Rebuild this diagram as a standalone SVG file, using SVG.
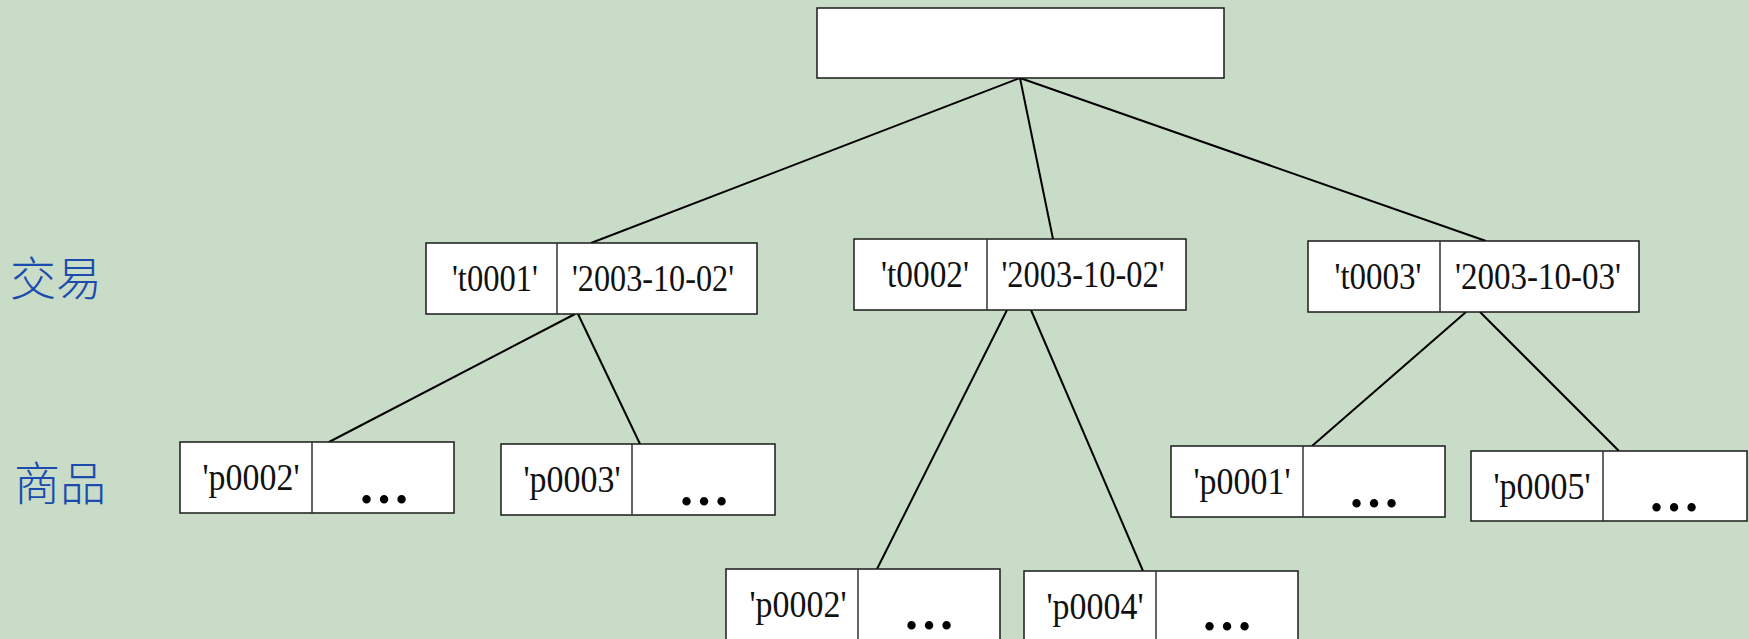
<svg xmlns="http://www.w3.org/2000/svg" width="1749" height="639" viewBox="0 0 1749 639">
<style>
.box{fill:#ffffff;stroke:#1a1a1a;stroke-width:1.5}
.div{stroke:#333;stroke-width:1.5}
.t{font-family:"Liberation Serif","Times New Roman",serif;font-size:37px;fill:#111;text-anchor:middle}
.dots{font-family:"Liberation Serif","Times New Roman",serif;font-weight:bold;font-size:52px;fill:#000;text-anchor:middle}
.lbl{font-family:"Noto Sans CJK TC","Noto Sans CJK SC",sans-serif;font-size:46px;font-weight:300;fill:#1c4bae}
.edge{stroke:#000;stroke-width:2;fill:none}
</style>
<rect x="0" y="0" width="1749" height="639" fill="#c9dcc8"/>
<text class="lbl" x="10" y="295">交易</text>
<text class="lbl" x="14" y="500">商品</text>
<g id="connectors">
<line class="edge" x1="1020" y1="78" x2="591" y2="243"/>
<line class="edge" x1="1020" y1="78" x2="1053" y2="239"/>
<line class="edge" x1="1020" y1="78" x2="1486" y2="241"/>
<line class="edge" x1="575" y1="314" x2="329" y2="442"/>
<line class="edge" x1="578" y1="314" x2="640" y2="444"/>
<line class="edge" x1="1007" y1="310" x2="877" y2="569"/>
<line class="edge" x1="1031" y1="310" x2="1143" y2="571"/>
<line class="edge" x1="1466" y1="312" x2="1312" y2="446"/>
<line class="edge" x1="1480" y1="312" x2="1619" y2="451"/>
</g>
<g id="root"><rect class="box" x="817" y="8" width="407" height="70"/></g>
<g id="t0001">
<rect class="box" x="426" y="243" width="331" height="71"/>
<line class="div" x1="557" y1="243" x2="557" y2="314"/>
<text class="t" x="495" y="291" textLength="86" lengthAdjust="spacingAndGlyphs">'t0001'</text>
<text class="t" x="653" y="291" textLength="162" lengthAdjust="spacingAndGlyphs">'2003-10-02'</text>
</g>
<g id="t0002">
<rect class="box" x="854" y="239" width="332" height="71"/>
<line class="div" x1="987" y1="239" x2="987" y2="310"/>
<text class="t" x="925" y="287" textLength="88" lengthAdjust="spacingAndGlyphs">'t0002'</text>
<text class="t" x="1083" y="287" textLength="163" lengthAdjust="spacingAndGlyphs">'2003-10-02'</text>
</g>
<g id="t0003">
<rect class="box" x="1308" y="241" width="331" height="71"/>
<line class="div" x1="1440" y1="241" x2="1440" y2="312"/>
<text class="t" x="1378" y="289" textLength="87" lengthAdjust="spacingAndGlyphs">'t0003'</text>
<text class="t" x="1538" y="289" textLength="166" lengthAdjust="spacingAndGlyphs">'2003-10-03'</text>
</g>
<g id="p0002a">
<rect class="box" x="180" y="442" width="274" height="71"/>
<line class="div" x1="312" y1="442" x2="312" y2="513"/>
<text class="t" x="251" y="490" textLength="97" lengthAdjust="spacingAndGlyphs">'p0002'</text>
<text class="dots" x="384" y="503">…</text>
</g>
<g id="p0003">
<rect class="box" x="501" y="444" width="274" height="71"/>
<line class="div" x1="632" y1="444" x2="632" y2="515"/>
<text class="t" x="572" y="492" textLength="97" lengthAdjust="spacingAndGlyphs">'p0003'</text>
<text class="dots" x="704" y="505">…</text>
</g>
<g id="p0001">
<rect class="box" x="1171" y="446" width="274" height="71"/>
<line class="div" x1="1303" y1="446" x2="1303" y2="517"/>
<text class="t" x="1242" y="494" textLength="97" lengthAdjust="spacingAndGlyphs">'p0001'</text>
<text class="dots" x="1374" y="507">…</text>
</g>
<g id="p0005">
<rect class="box" x="1471" y="451" width="276" height="70"/>
<line class="div" x1="1603" y1="451" x2="1603" y2="521"/>
<text class="t" x="1542" y="499" textLength="97" lengthAdjust="spacingAndGlyphs">'p0005'</text>
<text class="dots" x="1674" y="511">…</text>
</g>
<g id="p0002b">
<rect class="box" x="726" y="569" width="274" height="80"/>
<line class="div" x1="858" y1="569" x2="858" y2="649"/>
<text class="t" x="798" y="617" textLength="97" lengthAdjust="spacingAndGlyphs">'p0002'</text>
<text class="dots" x="929" y="629">…</text>
</g>
<g id="p0004">
<rect class="box" x="1024" y="571" width="274" height="80"/>
<line class="div" x1="1156" y1="571" x2="1156" y2="651"/>
<text class="t" x="1095" y="619" textLength="97" lengthAdjust="spacingAndGlyphs">'p0004'</text>
<text class="dots" x="1227" y="630">…</text>
</g>
</svg>
